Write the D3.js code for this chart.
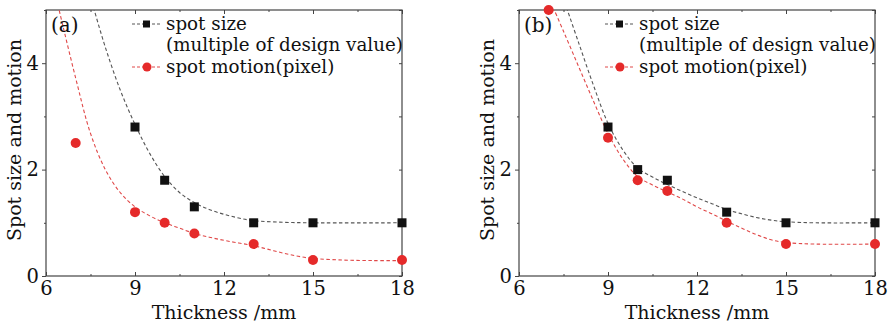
<!DOCTYPE html>
<html>
<head>
<meta charset="utf-8">
<script src="https://cdn.jsdelivr.net/npm/d3@7"></script>
<style>
  body { margin: 0; background: #fff; }
  svg { display: block; font-family: 'DejaVu Serif', 'Liberation Serif', serif; }
</style>
</head>
<body>
<svg id="chart" width="893" height="324"></svg>
<script>
// thickness values (mm) where points were measured
const thicknessA = [9, 10, 11, 13, 15, 18]
const spotSizeA = [2.8, 1.8, 1.3, 1.0, 1.0, 1.0]
const motionThickA = [7, 9, 10, 11, 13, 15, 18]
const spotMotionA = [2.5, 1.2, 1.0, 0.8, 0.6, 0.3, 0.3]

const thicknessB = [9, 10, 11, 13, 15, 18]
const spotSizeB = [2.8, 2.0, 1.8, 1.2, 1.0, 1.0]
const motionThickB = [7, 9, 10, 11, 13, 15, 18]
const spotMotionB = [5.0, 2.6, 1.8, 1.6, 1.0, 0.6, 0.6]

// fitted (dashed) curves
const fitXA_size = [7.6, 8.0, 8.5, 9.0, 9.5, 10.0, 10.5, 11.0, 11.5, 12.0, 12.5, 13.0, 14.0, 15.0, 18.0]
const fitYA_size = [5.05, 4.3, 3.5, 2.85, 2.3, 1.87, 1.57, 1.38, 1.25, 1.16, 1.09, 1.04, 1.01, 1.0, 1.0]
const fitXA_motion = [6.4, 7.0, 7.5, 8.0, 8.5, 9.0, 9.5, 10.0, 10.5, 11.0, 11.5, 12.0, 12.5, 13.0, 13.5, 14.0, 14.5, 15.0, 16.0, 17.0, 18.0]
const fitYA_motion = [5.1, 3.72, 2.68, 2.0, 1.57, 1.3, 1.13, 1.0, 0.9, 0.8, 0.73, 0.67, 0.62, 0.57, 0.5, 0.43, 0.37, 0.33, 0.3, 0.29, 0.29]

const fitXB_size = [7.6, 8.0, 8.5, 9.0, 9.5, 10.0, 10.5, 11.0, 11.5, 12.0, 12.5, 13.0, 13.5, 14.0, 14.5, 15.0, 16.0, 18.0]
const fitYB_size = [5.05, 4.4, 3.6, 2.87, 2.37, 2.03, 1.86, 1.72, 1.59, 1.47, 1.36, 1.25, 1.17, 1.1, 1.05, 1.02, 1.0, 1.0]
const fitXB_motion = [7.15, 7.5, 8.0, 8.5, 9.0, 9.5, 10.0, 10.5, 11.0, 11.5, 12.0, 12.5, 13.0, 13.5, 14.0, 14.5, 15.0, 16.0, 18.0]
const fitYB_motion = [5.05, 4.6, 3.95, 3.3, 2.68, 2.2, 1.87, 1.71, 1.58, 1.45, 1.3, 1.17, 1.03, 0.9, 0.78, 0.68, 0.63, 0.6, 0.6]

const xTicks = [6, 9, 12, 15, 18]
const xMinor = [7.5, 10.5, 13.5, 16.5]
const yTicks = [0, 2, 4]
const yMinor = [1, 3, 5]
const legendLabels = ['spot size', '(multiple of design value)', 'spot motion(pixel)']

const zip = (xs, ys) => xs.map((x, i) => ({ x, y: ys[i] }))

const svg = d3.select('#chart')

const panels = [
  {
    id: 'a', tag: '(a)', left: 46,
    size: zip(thicknessA, spotSizeA), motion: zip(motionThickA, spotMotionA),
    sizeFit: zip(fitXA_size, fitYA_size), motionFit: zip(fitXA_motion, fitYA_motion)
  },
  {
    id: 'b', tag: '(b)', left: 519,
    size: zip(thicknessB, spotSizeB), motion: zip(motionThickB, spotMotionB),
    sizeFit: zip(fitXB_size, fitYB_size), motionFit: zip(fitXB_motion, fitYB_motion)
  }
]

const plotW = 356
const plotTop = 10
const plotBottom = 276
const black = '#111'
const red = '#e52a2a'

panels.forEach((p) => {
  const x = d3.scaleLinear().domain([6, 18]).range([p.left, p.left + plotW])
  const y = d3.scaleLinear().domain([0, 5]).range([plotBottom, plotTop])
  const g = svg.append('g').attr('class', 'panel-' + p.id)

  g.append('defs')
    .append('clipPath')
    .attr('id', 'clip-' + p.id)
    .append('rect')
    .attr('x', p.left)
    .attr('y', plotTop)
    .attr('width', plotW)
    .attr('height', plotBottom - plotTop)

  // axes
  g.append('g')
    .attr('transform', `translate(0,${plotBottom})`)
    .call(d3.axisBottom(x).tickValues(xTicks).tickSize(-4).tickPadding(5).tickFormat(d3.format('d')))
    .call((a) => a.select('.domain').remove())
  g.append('g')
    .attr('transform', `translate(0,${plotBottom})`)
    .call(d3.axisBottom(x).tickValues(xMinor).tickSize(-2).tickFormat(''))
    .call((a) => a.select('.domain').remove())
  g.append('g')
    .attr('transform', `translate(0,${plotTop})`)
    .call(d3.axisTop(x).tickValues(xTicks).tickSize(-4).tickFormat(''))
    .call((a) => a.select('.domain').remove())
  g.append('g')
    .attr('transform', `translate(0,${plotTop})`)
    .call(d3.axisTop(x).tickValues(xMinor).tickSize(-2).tickFormat(''))
    .call((a) => a.select('.domain').remove())
  g.append('g')
    .attr('transform', `translate(${p.left},0)`)
    .call(d3.axisLeft(y).tickValues(yTicks).tickSize(4).tickPadding(3).tickFormat(d3.format('d')))
    .call((a) => a.select('.domain').remove())
  g.append('g')
    .attr('transform', `translate(${p.left},0)`)
    .call(d3.axisLeft(y).tickValues(yMinor).tickSize(2).tickFormat(''))
    .call((a) => a.select('.domain').remove())
  g.append('g')
    .attr('transform', `translate(${p.left + plotW},0)`)
    .call(d3.axisRight(y).tickValues(yTicks.concat(yMinor)).tickSize(-3).tickFormat(''))
    .call((a) => a.select('.domain').remove())

  g.selectAll('.tick line').attr('stroke', '#444')
  g.selectAll('.tick text')
    .attr('font-family', "'DejaVu Serif', serif")
    .attr('font-size', 19.5)
    .attr('fill', '#111')

  // frame
  g.append('rect')
    .attr('x', p.left)
    .attr('y', plotTop)
    .attr('width', plotW)
    .attr('height', plotBottom - plotTop)
    .attr('fill', 'none')
    .attr('stroke', '#444')
    .attr('stroke-width', 1.2)

  // axis titles
  g.append('text')
    .attr('x', x(12))
    .attr('y', 319)
    .attr('text-anchor', 'middle')
    .attr('font-size', 19)
    .attr('fill', '#111')
    .text('Thickness /mm')
  g.append('text')
    .attr('transform', `translate(${p.left - 25},140) rotate(-90)`)
    .attr('text-anchor', 'middle')
    .attr('font-size', 19)
    .attr('fill', '#111')
    .text('Spot size and motion')

  // fitted curves
  const line = d3.line()
    .x((d) => x(d.x))
    .y((d) => y(d.y))
    .curve(d3.curveCatmullRom.alpha(0.5))
  const curves = g.append('g').attr('clip-path', `url(#clip-${p.id})`)
  curves.append('path')
    .attr('d', line(p.motionFit))
    .attr('fill', 'none')
    .attr('stroke', '#e04848')
    .attr('stroke-width', 1.1)
    .attr('stroke-dasharray', '3.5,2.5')
  curves.append('path')
    .attr('d', line(p.sizeFit))
    .attr('fill', 'none')
    .attr('stroke', '#555')
    .attr('stroke-width', 1.1)
    .attr('stroke-dasharray', '3.5,2.5')

  // markers
  g.selectAll('.sq')
    .data(p.size)
    .enter()
    .append('rect')
    .attr('class', 'sq')
    .attr('x', (d) => x(d.x) - 4.5)
    .attr('y', (d) => y(d.y) - 4.5)
    .attr('width', 9)
    .attr('height', 9)
    .attr('fill', black)
  g.selectAll('.dot')
    .data(p.motion)
    .enter()
    .append('circle')
    .attr('class', 'dot')
    .attr('cx', (d) => x(d.x))
    .attr('cy', (d) => y(d.y))
    .attr('r', 5)
    .attr('fill', red)

  // panel tag
  g.append('text')
    .attr('x', p.left + 5)
    .attr('y', 32)
    .attr('font-size', 20)
    .attr('fill', '#111')
    .text(p.tag)

  // legend
  const lx = p.left + 86
  const lg = g.append('g')
  lg.append('line')
    .attr('x1', lx).attr('x2', lx + 30).attr('y1', 24).attr('y2', 24)
    .attr('stroke', '#555').attr('stroke-dasharray', '3,2')
  lg.append('rect')
    .attr('x', lx + 11).attr('y', 20.5).attr('width', 7).attr('height', 7)
    .attr('fill', black)
  lg.append('line')
    .attr('x1', lx).attr('x2', lx + 30).attr('y1', 67).attr('y2', 67)
    .attr('stroke', '#e04848').attr('stroke-dasharray', '3,2')
  lg.append('circle')
    .attr('cx', lx + 15).attr('cy', 67).attr('r', 4.5)
    .attr('fill', red)
  lg.selectAll('text')
    .data(legendLabels)
    .enter()
    .append('text')
    .attr('x', lx + 34)
    .attr('y', (d, i) => [30, 51, 73][i])
    .attr('font-size', 18.3)
    .attr('fill', '#111')
    .text((d) => d)
})
</script>
</body>
</html>
